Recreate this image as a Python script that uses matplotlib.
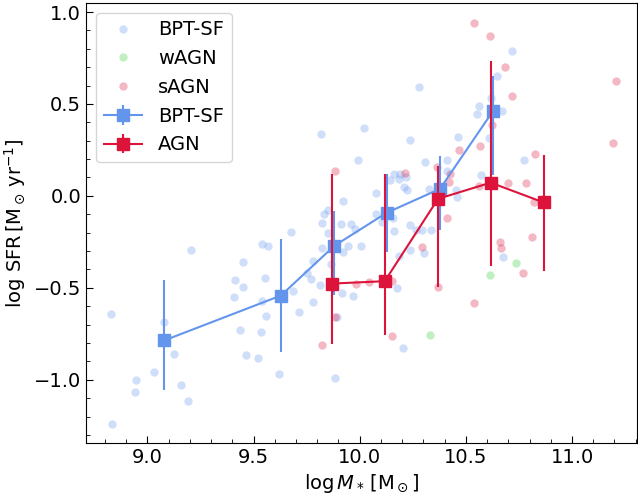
import numpy as np
import matplotlib
matplotlib.use("Agg")
import matplotlib.pyplot as plt
from matplotlib.ticker import MultipleLocator

# --- individual galaxies ---
sf_x = [9.206, 9.541, 9.568, 9.452, 9.411, 9.552, 9.452, 9.406, 9.538, 8.829, 9.560, 9.077,
        9.437, 9.535, 9.127, 9.464, 9.521, 9.619, 9.032, 8.948, 9.160, 8.944, 9.193, 8.835,
        10.278, 10.018, 9.820, 10.237, 10.465, 9.990, 10.306, 10.411, 10.160, 10.189, 10.143,
        10.187, 10.220, 10.209, 10.225, 10.410, 10.326, 10.452, 10.460, 10.076, 9.922, 9.853,
        9.834, 9.823, 9.911, 9.957, 9.976, 10.077, 10.103, 10.159, 10.160, 10.236, 10.267,
        10.295, 10.338, 9.853, 9.676, 9.823, 9.945, 10.008, 9.922, 10.236, 10.302, 10.184,
        9.779, 9.864, 9.750, 9.770, 9.812, 9.684, 9.919, 9.969, 9.779, 9.712, 10.176, 9.894,
        10.203, 9.883, 10.717, 10.648, 10.617, 10.562, 10.554, 10.670, 10.609, 10.772, 10.571,
        10.675]
sf_y = [-0.295, -0.261, -0.272, -0.357, -0.457, -0.447, -0.498, -0.549, -0.574, -0.641, -0.651, -0.685,
        -0.730, -0.738, -0.860, -0.868, -0.884, -0.971, -0.958, -1.002, -1.029, -1.064, -1.118, -1.239,
        0.592, 0.371, 0.335, 0.303, 0.321, 0.194, 0.183, 0.194, 0.118, 0.118, 0.085,
        0.094, 0.103, 0.051, 0.033, 0.138, 0.038, 0.031, -0.005, 0.013, -0.027, -0.076,
        -0.096, -0.148, -0.152, -0.154, -0.179, -0.096, -0.143, -0.123, -0.192, -0.161, -0.183,
        -0.183, -0.186, -0.201, -0.196, -0.281, -0.270, -0.270, -0.304, -0.295, -0.310, -0.328,
        -0.352, -0.373, -0.420, -0.453, -0.484, -0.518, -0.527, -0.542, -0.576, -0.630, -0.502, -0.661,
        -0.826, -0.989, 0.788, 0.652, 0.534, 0.489, 0.447, 0.462, 0.314, 0.194, 0.114,
        -0.330]

wagn_x = [10.330, 10.738, 10.615]
wagn_y = [-0.759, -0.363, -0.433]

sagn_x = [9.884, 10.212, 10.364, 10.469, 10.424, 10.422, 10.410, 10.294, 9.983, 10.044, 10.152,
          10.369, 9.884, 9.822, 10.151, 10.538, 10.612, 10.684, 10.717, 11.206, 11.194, 10.565,
          10.824, 10.623, 10.560, 10.698, 10.781, 10.822, 10.811, 10.660, 10.665, 10.769, 10.537]
sagn_y = [0.136, 0.125, 0.159, 0.250, 0.120, 0.074, -0.123, -0.277, -0.477, -0.466, -0.462,
          -0.498, -0.661, -0.810, -0.761, 0.942, 0.871, 0.703, 0.542, 0.625, 0.286, 0.273,
          0.227, 0.384, 0.053, 0.072, 0.072, -0.036, -0.221, -0.250, -0.283, -0.417, -0.582]

# --- binned medians ---
bin_sf_x = [9.080, 9.629, 9.880, 10.127, 10.378, 10.627]
bin_sf_y = [-0.786, -0.542, -0.272, -0.092, 0.038, 0.460]
bin_sf_lo = [0.272, 0.307, 0.266, 0.211, 0.223, 0.346]
bin_sf_hi = [0.326, 0.307, 0.190, 0.210, 0.179, 0.192]

bin_agn_x = [9.869, 10.118, 10.369, 10.617, 10.867]
bin_agn_y = [-0.477, -0.464, -0.016, 0.072, -0.036]
bin_agn_lo = [0.329, 0.291, 0.482, 0.456, 0.370]
bin_agn_hi = [0.598, 0.582, 0.179, 0.663, 0.257]

plt.rcParams['font.family'] = ['DejaVu Sans']
plt.rcParams['mathtext.fontset'] = 'dejavusans'

fig = plt.figure(figsize=(6.38, 4.97), dpi=100)
ax = fig.add_axes([86/638, 54/497, 551/638, 440/497])

ax.plot(sf_x, sf_y, 'o', color='cornflowerblue', alpha=0.3, ms=6, mec='none', label='BPT-SF', zorder=1)
ax.plot(wagn_x, wagn_y, 'o', color='limegreen', alpha=0.3, ms=6, mec='none', label='wAGN', zorder=1)
ax.plot(sagn_x, sagn_y, 'o', color='crimson', alpha=0.3, ms=6, mec='none', label='sAGN', zorder=1)

ax.errorbar(bin_sf_x, bin_sf_y, yerr=[bin_sf_lo, bin_sf_hi], color='cornflowerblue', marker='s',
            ms=9, lw=1.5, elinewidth=1.5, capsize=0, label='BPT-SF', zorder=3)
ax.errorbar(bin_agn_x, bin_agn_y, yerr=[bin_agn_lo, bin_agn_hi], color='crimson', marker='s',
            ms=9, lw=1.5, elinewidth=1.5, capsize=0, label='AGN', zorder=4)

ax.set_xlim(8.711, 11.306)
ax.set_ylim(-1.344, 1.049)
ax.xaxis.set_major_locator(MultipleLocator(0.5))
ax.xaxis.set_minor_locator(MultipleLocator(0.1))
ax.yaxis.set_major_locator(MultipleLocator(0.5))
ax.yaxis.set_minor_locator(MultipleLocator(0.1))
ax.tick_params(which='both', direction='in', labelsize=14)
ax.tick_params(which='major', length=5)
ax.tick_params(which='minor', length=3)

ax.set_xlabel(r'$\log M_*\,[\mathrm{M_\odot}]$', fontsize=14)
ax.set_ylabel(r'$\log\,\mathrm{SFR}\,[\mathrm{M_\odot\,yr^{-1}}]$', fontsize=14)

ax.legend(loc='upper left', fontsize=14, handlelength=2.0)

fig.savefig('out.png', dpi=100)
